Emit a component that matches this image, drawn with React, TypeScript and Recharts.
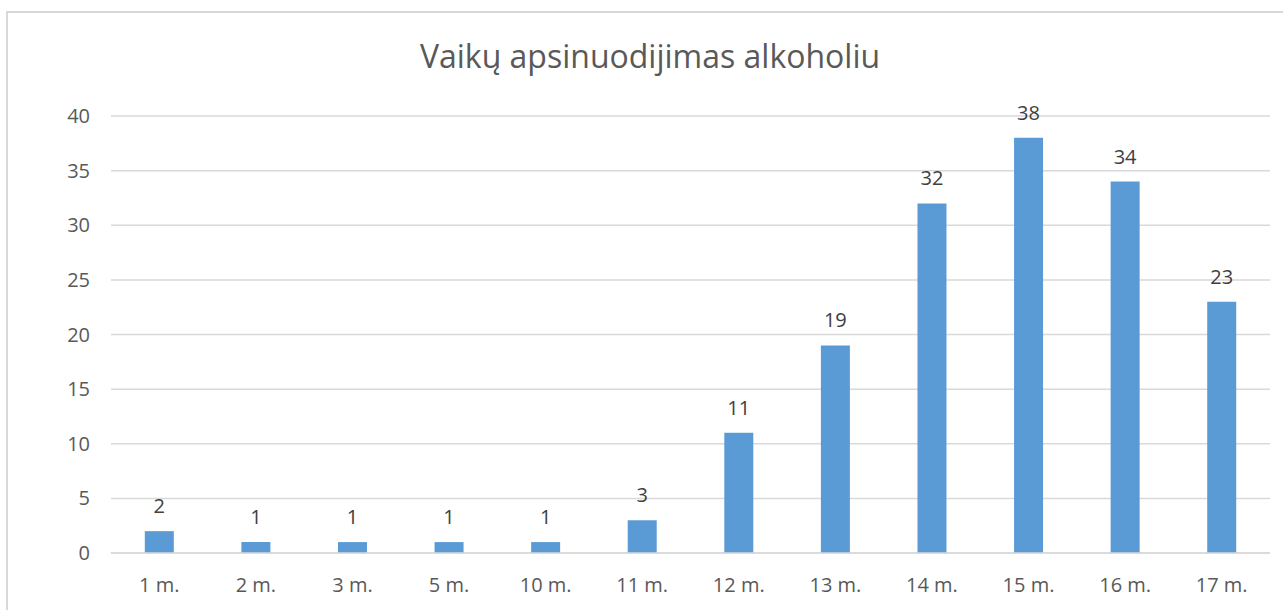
import { BarChart, Bar, XAxis, YAxis, CartesianGrid, LabelList } from "recharts";

const categories = ["1 m.", "2 m.", "3 m.", "5 m.", "10 m.", "11 m.", "12 m.", "13 m.", "14 m.", "15 m.", "16 m.", "17 m."];
const counts = [2, 1, 1, 1, 1, 3, 11, 19, 32, 38, 34, 23];
const yTicks = [0, 5, 10, 15, 20, 25, 30, 35, 40];

const data = categories.map((label, i) => ({ label, value: counts[i] }));

const FONT = "'Open Sans', 'Noto Sans', sans-serif";
const TEXT = "#595959";

export default function App() {
  return (
    <div
      style={{
        position: "fixed",
        left: 0,
        top: 0,
        width: 1283,
        height: 610,
        overflow: "hidden",
        background: "#fff",
        fontFamily: FONT,
      }}
    >
      <div
        style={{
          position: "absolute",
          left: 0,
          width: 1300,
          top: 36,
          textAlign: "center",
          fontSize: 32,
          color: TEXT,
          lineHeight: "40px",
        }}
      >
        Vaikų apsinuodijimas alkoholiu
      </div>
      <div style={{ position: "absolute", left: 0, top: 0 }}>
        <BarChart
          width={1283}
          height={610}
          data={data}
          margin={{ top: 116, right: 13, bottom: 17, left: 0 }}
          barCategoryGap="35%"
        >
          <CartesianGrid vertical={false} stroke="#d9d9d9" strokeWidth={1.5} />
          <XAxis
            dataKey="label"
            height={40}
            axisLine={{ stroke: "#d9d9d9", strokeWidth: 1.5 }}
            tickLine={false}
            tickSize={0}
            tickMargin={25}
            tick={{ fill: TEXT, fontSize: 20, fontFamily: FONT }}
            interval={0}
          />
          <YAxis
            width={111}
            domain={[0, 40]}
            ticks={yTicks}
            axisLine={false}
            tickLine={false}
            tickSize={0}
            tickMargin={21}
            tick={{ fill: TEXT, fontSize: 20, fontFamily: FONT }}
          />
          <Bar dataKey="value" fill="#5b9bd5" isAnimationActive={false}>
            <LabelList
              dataKey="value"
              position="top"
              offset={18}
              fill="#404040"
              fontSize={20}
              fontFamily={FONT}
            />
          </Bar>
        </BarChart>
      </div>
      <div
        style={{
          position: "absolute",
          zIndex: 2,
          pointerEvents: "none",
          left: 6,
          top: 11,
          width: 1300,
          height: 640,
          borderTop: "2px solid #d9d9d9",
          borderLeft: "2px solid #d9d9d9",
          boxSizing: "border-box",
        }}
      />
    </div>
  );
}
